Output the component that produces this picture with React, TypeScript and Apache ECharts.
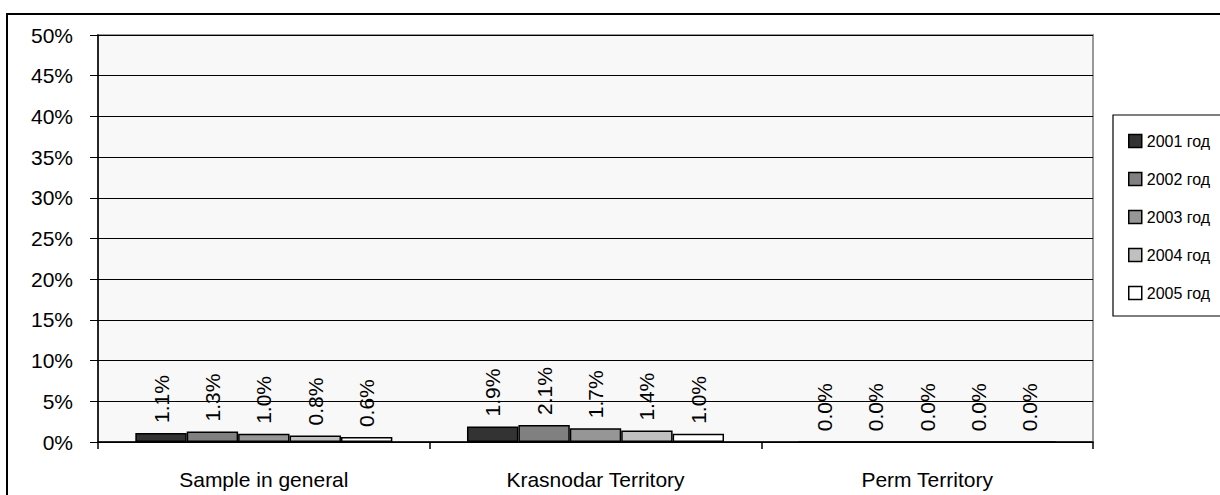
import React, { useEffect, useRef } from "react";
import * as echarts from "echarts";

const categories = ["Sample in general", "Krasnodar Territory", "Perm Territory"];
const seriesNames = ["2001 год", "2002 год", "2003 год", "2004 год", "2005 год"];
const values2001 = [1.1, 1.9, 0.0];
const values2002 = [1.3, 2.1, 0.0];
const values2003 = [1.0, 1.7, 0.0];
const values2004 = [0.8, 1.4, 0.0];
const values2005 = [0.6, 1.0, 0.0];
const seriesValues = [values2001, values2002, values2003, values2004, values2005];
const seriesColors = ["#333333", "#808080", "#969696", "#c0c0c0", "#ffffff"];

const FONT = "'Liberation Sans', Arial, sans-serif";

export default function App() {
  const ref = useRef<HTMLDivElement>(null);

  useEffect(() => {
    if (!ref.current) return;
    const chart = echarts.init(ref.current, null, { renderer: "svg" });
    const option: any = {
      animation: false,
      backgroundColor: "#ffffff",
      textStyle: { fontFamily: FONT, color: "#000" },
      grid: {
        left: 98,
        right: 127,
        top: 35,
        bottom: 53,
        show: true,
        backgroundColor: "#f8f8f8",
        borderColor: "#999999",
        borderWidth: 2,
      },
      legend: {
        orient: "vertical",
        left: 1123,
        top: 128,
        itemWidth: 13,
        itemHeight: 13,
        itemGap: 22,
        icon: "rect",
        data: seriesNames,
        textStyle: { fontFamily: FONT, fontSize: 16, color: "#000" },
        itemStyle: { borderColor: "#000", borderWidth: 1.5 },
      },
      xAxis: {
        type: "category",
        data: categories,
        axisLine: { lineStyle: { color: "#000", width: 1.5 } },
        axisTick: { show: true, length: 7, lineStyle: { color: "#000", width: 1.5 } },
        axisLabel: { fontFamily: FONT, fontSize: 21, color: "#000", margin: 27 },
        splitLine: { show: false },
      },
      yAxis: {
        type: "value",
        min: 0,
        max: 50,
        interval: 5,
        axisLine: { show: true, lineStyle: { color: "#000", width: 1.5 } },
        axisTick: { show: true, length: 8, lineStyle: { color: "#000", width: 1 } },
        axisLabel: { fontFamily: FONT, fontSize: 21, color: "#000", margin: 25, formatter: "{value}%" },
        splitLine: { show: true, lineStyle: { color: "#000", width: 1 } },
      },
      series: seriesNames.map((name, i) => ({
        name,
        type: "bar",
        data: seriesValues[i],
        barGap: "0%",
        barCategoryGap: "22.5%",
        itemStyle: { color: seriesColors[i], borderColor: "#000", borderWidth: 1.5 },
        label: {
          show: true,
          position: "top",
          rotate: 90,
          align: "left",
          verticalAlign: "middle",
          distance: 10,
          fontFamily: FONT,
          fontSize: 21,
          color: "#000",
          formatter: (p: any) => Number(p.value).toFixed(1) + "%",
        },
      })),
      graphic: [
        {
          type: "rect",
          shape: { x: 7, y: 14, width: 1240, height: 520 },
          style: { fill: "none", stroke: "#000", lineWidth: 2 },
          silent: true,
          z: -1,
        },
        {
          type: "rect",
          shape: { x: 1113, y: 115, width: 130, height: 201 },
          style: { fill: "none", stroke: "#000", lineWidth: 1.2 },
          silent: true,
        },
      ],
    };
    chart.setOption(option);
    return () => chart.dispose();
  }, []);

  return (
    <div
      ref={ref}
      style={{ position: "fixed", left: 0, top: 0, width: 1220, height: 495 }}
    />
  );
}
